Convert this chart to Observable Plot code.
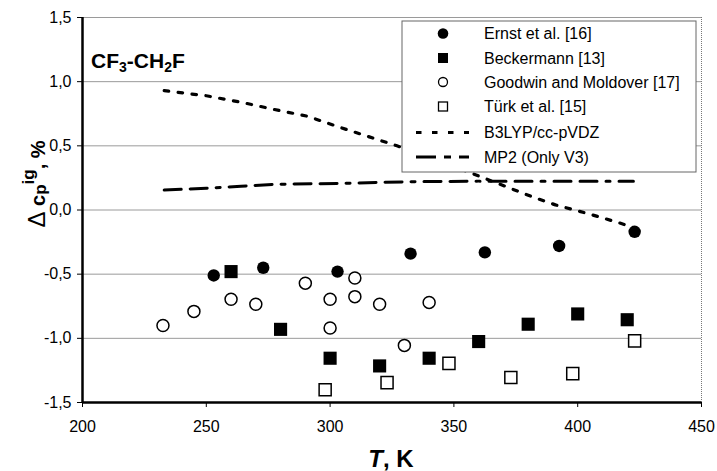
<!DOCTYPE html>
<html>
<head>
<meta charset="utf-8">
<script src="https://cdn.jsdelivr.net/npm/d3@7"></script>
<script src="https://cdn.jsdelivr.net/npm/@observablehq/plot@0.6"></script>
<style>
  html, body { margin: 0; padding: 0; background: #fff; }
  #wrap { position: relative; width: 717px; height: 471px; }
  #wrap > svg { position: absolute; left: 0; top: 0; }
  #wrap > svg.overlay { z-index: 5; pointer-events: none; }
</style>
</head>
<body>
<div id="wrap"></div>
<script>
// ---- data ----
const ernstT = [253, 273, 303, 332.5, 362.5, 392.5, 423];
const ernstV = [-0.51, -0.45, -0.48, -0.34, -0.33, -0.28, -0.17];
const beckT = [260, 280, 300, 320, 340, 360, 380, 400, 420];
const beckV = [-0.48, -0.93, -1.155, -1.215, -1.155, -1.025, -0.89, -0.81, -0.855];
const goodT = [232.5, 245, 260, 270, 290, 300, 300, 310, 310, 320, 330, 340];
const goodV = [-0.90, -0.79, -0.695, -0.735, -0.57, -0.695, -0.92, -0.53, -0.675, -0.735, -1.055, -0.72];
const turkT = [298, 323, 348, 373, 398, 423];
const turkV = [-1.40, -1.345, -1.195, -1.305, -1.275, -1.02];
const b3lypT = [233, 250, 264, 277, 291, 300, 307, 327, 343, 358, 382, 391, 404.5, 416.7, 423];
const b3lypV = [0.93, 0.89, 0.84, 0.785, 0.73, 0.67, 0.625, 0.50, 0.39, 0.28, 0.10, 0.04, -0.03, -0.10, -0.14];
const mp2T = [233, 250, 264, 277, 304, 331, 360, 390, 422.5];
const mp2V = [0.155, 0.17, 0.185, 0.20, 0.207, 0.22, 0.225, 0.225, 0.225];
const xTicks = [200, 250, 300, 350, 400, 450];
const yTicks = [-1.5, -1.0, -0.5, 0.0, 0.5, 1.0, 1.5];
const seriesNames = ["Ernst et al. [16]", "Beckermann [13]", "Goodwin and Moldover [17]", "Türk et al. [15]", "B3LYP/cc-pVDZ", "MP2 (Only V3)"];
const titleParts = ["CF", "3", "-CH", "2", "F"];

const pts = (T, V) => T.map((t, i) => ({T: t, V: V[i]}));
const ernst = pts(ernstT, ernstV), beck = pts(beckT, beckV), good = pts(goodT, goodV), turk = pts(turkT, turkV);
const b3 = pts(b3lypT, b3lypV), mp2 = pts(mp2T, mp2V);

const W = 717, H = 471;
const fontFam = "'Liberation Sans', Arial, Helvetica, sans-serif";
const dotDash = "4.5,9.5";
const mp2Dash = "17,9,17,9,4,9";

const chart = Plot.plot({
  width: W, height: H,
  marginLeft: 82, marginRight: 16, marginTop: 17, marginBottom: 69,
  style: {fontSize: "16px", fontFamily: fontFam, color: "#000", background: "#fff", overflow: "visible"},
  x: {domain: [200, 450]},
  y: {domain: [-1.5, 1.5]},
  marks: [
    Plot.ruleY(yTicks.filter(d => d > -1.5), {stroke: "#9a9a9a", strokeWidth: 1}),
    Plot.ruleX([450], {stroke: "#777", strokeWidth: 1, strokeDasharray: "1,1"}),
    Plot.line(b3, {x: "T", y: "V", stroke: "#000", strokeWidth: 3.2, strokeDasharray: dotDash}),
    Plot.line(mp2, {x: "T", y: "V", stroke: "#000", strokeWidth: 3, strokeDasharray: mp2Dash}),
    Plot.dot(good, {x: "T", y: "V", r: 6, symbol: "circle", stroke: "#000", strokeWidth: 1.5, fill: "#fff"}),
    Plot.dot(turk, {x: "T", y: "V", r: 6.8, symbol: "square", stroke: "#000", strokeWidth: 1.5, fill: "#fff"}),
    Plot.dot(ernst, {x: "T", y: "V", r: 6.2, symbol: "circle", fill: "#000", stroke: null}),
    Plot.dot(beck, {x: "T", y: "V", r: 7.4, symbol: "square", fill: "#000", stroke: null}),
    Plot.axisX({ticks: xTicks, tickSize: 5, tickPadding: 13, tickFormat: d => String(d), label: null, fontSize: 16}),
    Plot.axisY({ticks: yTicks, tickSize: 5, tickPadding: 6, tickFormat: d => d.toFixed(1).replace(".", ","), label: null, fontSize: 16}),
    Plot.ruleX([200], {stroke: "#000", strokeWidth: 2.5}),
    Plot.ruleY([-1.5], {stroke: "#000", strokeWidth: 2.5})
  ]
});

const wrap = document.getElementById("wrap");
wrap.appendChild(chart);

// ---- overlay: title, axis labels, legend ----
const ov = d3.select(wrap).append("svg").attr("class", "overlay")
  .attr("width", W).attr("height", H)
  .style("font-family", fontFam);

// title inside plot
const t = ov.append("text").attr("x", 91).attr("y", 68)
  .attr("font-size", 21).attr("font-weight", "bold");
titleParts.forEach((p, i) => {
  const sub = i === 1 || i === 3;
  t.append("tspan").text(p)
    .attr("font-size", sub ? 14 : 21)
    .attr("dy", sub ? 4 : (i > 0 ? -4 : 0));
});

// y label
const yl = ov.append("text").attr("transform", "translate(45,184) rotate(-90)")
  .attr("text-anchor", "middle").attr("font-weight", "bold").attr("font-size", 20);
yl.append("tspan").text("Δ").attr("font-weight", "normal").attr("font-size", 24);
yl.append("tspan").text(" c");
yl.append("tspan").text("p").attr("font-size", 17).attr("dy", 1);
yl.append("tspan").text("ig").attr("font-size", 17).attr("dy", -12);
yl.append("tspan").text(", %").attr("dy", 11);

// x label
const xl = ov.append("text").attr("x", 391).attr("y", 467)
  .attr("text-anchor", "middle").attr("font-weight", "bold").attr("font-size", 24);
xl.append("tspan").text("T").attr("font-style", "italic");
xl.append("tspan").text(", K");

// legend
const lg = ov.append("g").attr("transform", "translate(402,21)");
lg.append("rect").attr("x", 0).attr("y", 0).attr("width", 294).attr("height", 151)
  .attr("fill", "#fff").attr("stroke", "#666").attr("stroke-width", 1);
const rowY = [12.5, 37, 61, 85.5, 111.5, 136];
const mx = 41, tx = 82;
seriesNames.forEach((name, i) => {
  const y = rowY[i];
  if (i === 0) lg.append("circle").attr("cx", mx).attr("cy", y).attr("r", 5.3).attr("fill", "#000");
  if (i === 1) lg.append("rect").attr("x", mx - 5).attr("y", y - 5).attr("width", 10).attr("height", 10).attr("fill", "#000");
  if (i === 2) lg.append("circle").attr("cx", mx).attr("cy", y).attr("r", 4.5).attr("fill", "#fff").attr("stroke", "#000").attr("stroke-width", 1.3);
  if (i === 3) lg.append("rect").attr("x", mx - 4.5).attr("y", y - 4.5).attr("width", 9).attr("height", 9).attr("fill", "#fff").attr("stroke", "#000").attr("stroke-width", 1.3);
  if (i === 4) lg.append("line").attr("x1", 14).attr("x2", 67).attr("y1", y).attr("y2", y).attr("stroke", "#000").attr("stroke-width", 3).attr("stroke-dasharray", "5.5,10.5");
  if (i === 5) lg.append("line").attr("x1", 14).attr("x2", 67).attr("y1", y).attr("y2", y).attr("stroke", "#000").attr("stroke-width", 3).attr("stroke-dasharray", "20,8,7,8");
  lg.append("text").attr("x", tx).attr("y", y).attr("dy", "0.36em").attr("font-size", 16).text(name);
});
</script>
</body>
</html>
